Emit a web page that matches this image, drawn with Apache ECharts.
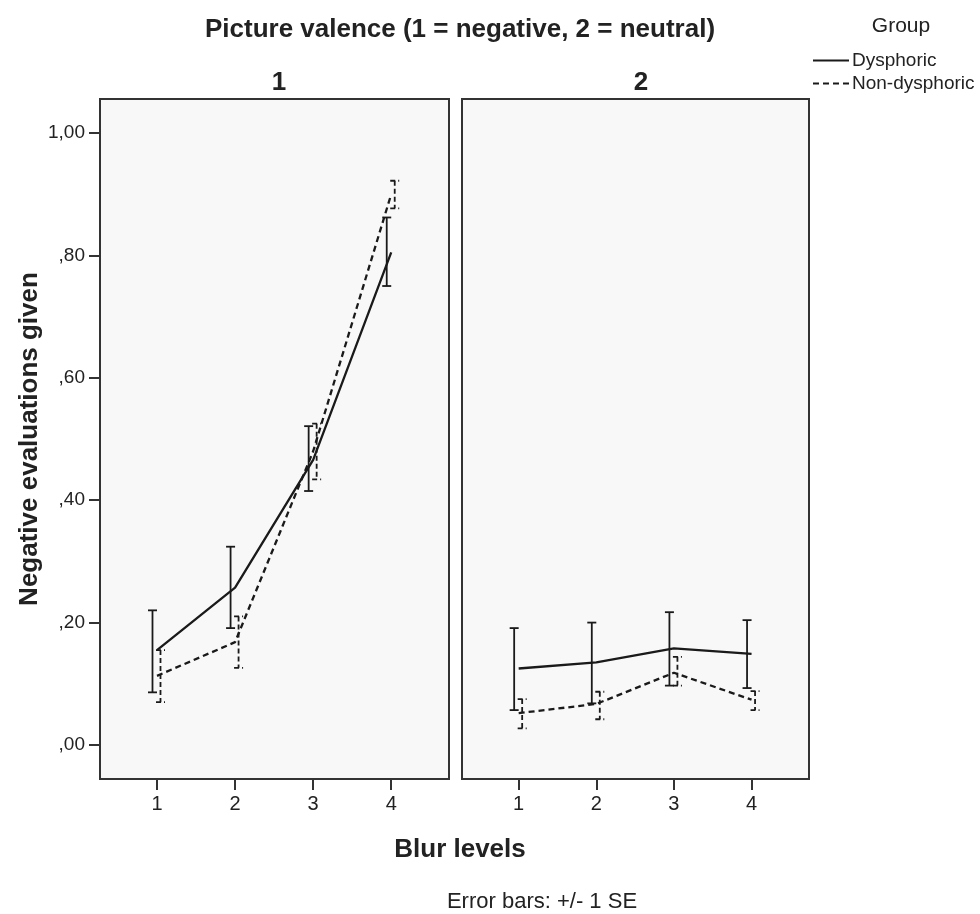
<!DOCTYPE html>
<html>
<head>
<meta charset="utf-8">
<script src="https://cdn.jsdelivr.net/npm/echarts@6/dist/echarts.min.js"></script>
<style>
html,body{margin:0;padding:0;background:#fff;}
#chart{width:980px;height:914px;}
</style>
</head>
<body>
<div id="chart"></div>
<script>
// ---- data ----
const blurLevels = [1, 2, 3, 4];
const panelLabels = ['1', '2'];
const groupNames = ['Dysphoric', 'Non-dysphoric'];
const yTicks = [0, 0.2, 0.4, 0.6, 0.8, 1.0];
const yTickLabels = [',00', ',20', ',40', ',60', ',80', '1,00'];

// Valence 1 (negative)
const negDysMean = [0.155, 0.257, 0.466, 0.805];
const negDysLow  = [0.086, 0.191, 0.415, 0.750];
const negDysHigh = [0.220, 0.324, 0.521, 0.862];
const negNonMean = [0.113, 0.168, 0.480, 0.900];
const negNonLow  = [0.070, 0.126, 0.434, 0.877];
const negNonHigh = [0.155, 0.210, 0.525, 0.922];

// Valence 2 (neutral)
const neuDysMean = [0.125, 0.135, 0.158, 0.149];
const neuDysLow  = [0.057, 0.068, 0.097, 0.093];
const neuDysHigh = [0.191, 0.200, 0.217, 0.204];
const neuNonMean = [0.052, 0.067, 0.118, 0.074];
const neuNonLow  = [0.027, 0.042, 0.097, 0.057];
const neuNonHigh = [0.075, 0.087, 0.144, 0.088];

// ---- chart ----
const FONT = 'Liberation Sans, Arial, sans-serif';
const INK = '#1a1a1a';
const TXT = '#222';

function pts(mean) { return blurLevels.map((b, i) => [b, mean[i]]); }
function bars(low, high) { return blurLevels.map((b, i) => [b, low[i], high[i]]); }

function errorSeries(name, gi, low, high, offset, dashed) {
  return {
    name: name,
    type: 'custom',
    xAxisIndex: gi, yAxisIndex: gi,
    encode: { x: 0, y: [1, 2] },
    data: bars(low, high),
    z: 3,
    renderItem: function (params, api) {
      const x = api.value(0);
      const top = api.coord([x, api.value(2)]);
      const bot = api.coord([x, api.value(1)]);
      const cx = top[0] + offset;
      const cap = 4.5;
      const style = { stroke: INK, lineWidth: 1.8, lineDash: dashed ? [5, 3] : null };
      return {
        type: 'group',
        children: [
          { type: 'line', shape: { x1: cx, y1: top[1], x2: cx, y2: bot[1] }, style: style },
          { type: 'line', shape: { x1: cx - cap, y1: top[1], x2: cx + cap, y2: top[1] }, style: style },
          { type: 'line', shape: { x1: cx - cap, y1: bot[1], x2: cx + cap, y2: bot[1] }, style: style }
        ]
      };
    }
  };
}

function lineSeries(name, gi, mean, dashed) {
  return {
    name: name,
    type: 'line',
    xAxisIndex: gi, yAxisIndex: gi,
    data: pts(mean),
    symbol: 'none',
    z: 4,
    lineStyle: { color: INK, width: 2.3, type: dashed ? [6, 4] : 'solid' },
    itemStyle: { color: INK },
    emphasis: { disabled: true }
  };
}

function xAxisDef(gi) {
  return {
    type: 'value', gridIndex: gi, min: 0.27, max: 4.74,
    axisLine: { show: false, onZero: false },
    splitLine: { show: false },
    axisTick: { show: true, customValues: blurLevels, length: 11, lineStyle: { color: '#333', width: 2 } },
    axisLabel: { show: true, customValues: blurLevels, margin: 15, fontSize: 20, color: TXT, fontFamily: FONT }
  };
}

function yAxisDef(gi, showLabels) {
  return {
    type: 'value', gridIndex: gi, min: -0.0556, max: 1.0556,
    axisLine: { show: false, onZero: false },
    splitLine: { show: false },
    axisTick: { show: showLabels, customValues: yTicks, length: 11, lineStyle: { color: '#333', width: 2 } },
    axisLabel: {
      show: showLabels, customValues: yTicks, margin: 15, fontSize: 19, color: TXT, fontFamily: FONT,
      formatter: function (v) {
        const i = yTicks.findIndex(t => Math.abs(t - v) < 1e-6);
        return i >= 0 ? yTickLabels[i] : '';
      }
    },
    name: showLabels ? 'Negative evaluations given' : '',
    nameLocation: 'middle',
    nameRotate: 90,
    nameGap: 57,
    nameTextStyle: { fontSize: 26, fontWeight: 'bold', color: TXT, fontFamily: FONT }
  };
}

const chart = echarts.init(document.getElementById('chart'), null, { renderer: 'canvas' });
chart.setOption({
  backgroundColor: '#ffffff',
  animation: false,
  textStyle: { fontFamily: FONT },
  title: [
    { text: 'Picture valence (1 = negative, 2 = neutral)', left: 455, top: 12, textAlign: 'center',
      textStyle: { fontSize: 26, fontWeight: 'bold', color: TXT, fontFamily: FONT } },
    { text: panelLabels[0], left: 274, top: 65, textAlign: 'center',
      textStyle: { fontSize: 26, fontWeight: 'bold', color: TXT, fontFamily: FONT } },
    { text: panelLabels[1], left: 636, top: 65, textAlign: 'center',
      textStyle: { fontSize: 26, fontWeight: 'bold', color: TXT, fontFamily: FONT } },
    { text: 'Blur levels', left: 455, top: 832, textAlign: 'center',
      textStyle: { fontSize: 26, fontWeight: 'bold', color: TXT, fontFamily: FONT } },
    { text: 'Error bars: +/- 1 SE', left: 537, top: 886, textAlign: 'center',
      textStyle: { fontSize: 22, fontWeight: 'normal', color: TXT, fontFamily: FONT } },
    { text: 'Group', left: 896, top: 11, textAlign: 'center',
      textStyle: { fontSize: 21, fontWeight: 'normal', color: TXT, fontFamily: FONT } }
  ],
  legend: {
    data: groupNames,
    orient: 'vertical',
    left: 812, top: 51,
    itemWidth: 36, itemHeight: 12, itemGap: 4,
    padding: 0,
    itemStyle: { opacity: 0 },
    lineStyle: { width: 2 },
    textStyle: { fontSize: 19, color: TXT, fontFamily: FONT, padding: [0, 0, 0, -2] },
    selectedMode: false
  },
  grid: [
    { left: 100, top: 99, width: 349, height: 680, show: true, backgroundColor: '#f8f8f8', borderColor: '#333', borderWidth: 2 },
    { left: 462, top: 99, width: 347, height: 680, show: true, backgroundColor: '#f8f8f8', borderColor: '#333', borderWidth: 2 }
  ],
  xAxis: [xAxisDef(0), xAxisDef(1)],
  yAxis: [yAxisDef(0, true), yAxisDef(1, false)],
  series: [
    lineSeries(groupNames[0], 0, negDysMean, false),
    lineSeries(groupNames[1], 0, negNonMean, true),
    lineSeries(groupNames[0], 1, neuDysMean, false),
    lineSeries(groupNames[1], 1, neuNonMean, true),
    errorSeries('errDys0', 0, negDysLow, negDysHigh, -4.5, false),
    errorSeries('errNon0', 0, negNonLow, negNonHigh, 3.5, true),
    errorSeries('errDys1', 1, neuDysLow, neuDysHigh, -4.5, false),
    errorSeries('errNon1', 1, neuNonLow, neuNonHigh, 3.5, true)
  ]
});
</script>
</body>
</html>
